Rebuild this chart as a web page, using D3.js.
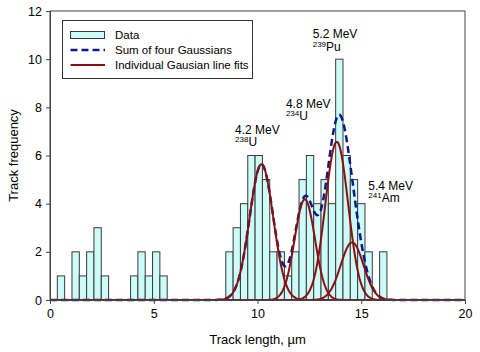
<!DOCTYPE html>
<html>
<head>
<meta charset="utf-8">
<script src="https://cdn.jsdelivr.net/npm/d3@7"></script>
<style>
  body { margin: 0; background: #fff; }
  text { font-family: "Liberation Sans", Arial, sans-serif; }
</style>
</head>
<body>
<div id="chart"></div>
<script>
// histogram bins: bin i covers [(i+1)*binWidth, (i+2)*binWidth]
const binWidth = 0.353;
const counts = [1, 0, 2, 1, 2, 3, 1, 0, 0, 0,
                1, 2, 1, 2, 1, 0, 0, 0, 0, 0,
                0, 0, 0, 2, 3, 4, 6, 6, 5, 2,
                2, 1, 2, 5, 6, 4, 5, 4, 10, 6,
                5, 4, 2, 0, 2];

// fitted gaussians (238U, 234U, 239Pu, 241Am)
const peakCentres = [10.19, 12.28, 13.82, 14.56];
const peakHeights = [5.64, 4.18, 6.57, 2.39];
const peakSigmas = [0.57, 0.49, 0.55, 0.55];

const energies = ["4.2 MeV", "4.8 MeV", "5.2 MeV", "5.4 MeV"];
const massNumbers = ["238", "234", "239", "241"];
const elements = ["U", "U", "Pu", "Am"];

const xTicks = [0, 5, 10, 15, 20];
const yTicks = [0, 2, 4, 6, 8, 10, 12];

const legendLabels = ["Data", "Sum of four Gaussians", "Individual Gausian line fits"];

// annotation anchors (data coords, left/baseline of the energy line)
const labelPos = [[8.92, 6.91], [11.37, 7.99], [12.66, 10.87], [15.34, 4.57]];

const width = 480, height = 352;
const margin = {top: 11, right: 15, bottom: 52, left: 50};

const svg = d3.select("#chart")
  .append("svg")
    .attr("width", width)
    .attr("height", height);

const x = d3.scaleLinear().domain([0, 20]).range([margin.left, width - margin.right]);
const y = d3.scaleLinear().domain([0, 12]).range([height - margin.bottom, margin.top]);

const axisColor = "#444";

// bars
const bins = counts.map((c, i) => ({lo: (i + 1) * binWidth, hi: (i + 2) * binWidth, c: c}))
  .filter(d => d.c > 0);
svg.selectAll("rect.bar")
  .data(bins)
  .enter()
  .append("rect")
    .attr("class", "bar")
    .attr("x", d => x(d.lo))
    .attr("width", d => x(d.hi) - x(d.lo))
    .attr("y", d => y(d.c))
    .attr("height", d => y(0) - y(d.c))
    .attr("fill", "#ccfbf8")
    .attr("stroke", "#3a3a3a")
    .attr("stroke-width", 1);

// curves
const xs = d3.range(0, 20.001, 0.04);
const gauss = (xv, i) => peakHeights[i] * Math.exp(-Math.pow(xv - peakCentres[i], 2) / (2 * peakSigmas[i] * peakSigmas[i]));
const line = d3.line().x(d => x(d[0])).y(d => y(d[1]));

svg.append("path")
  .datum(xs.map(v => [v, d3.sum(peakCentres, (_, i) => gauss(v, i))]))
  .attr("d", line)
  .attr("fill", "none")
  .attr("stroke", "#0a1a8c")
  .attr("stroke-width", 2.5)
  .attr("stroke-dasharray", "7,4");

peakCentres.forEach((_, i) => {
  svg.append("path")
    .datum(xs.map(v => [v, gauss(v, i)]))
    .attr("d", line)
    .attr("fill", "none")
    .attr("stroke", "#8b0f0f")
    .attr("stroke-width", 2);
});

// frame
svg.append("rect")
  .attr("x", x(0)).attr("y", y(12))
  .attr("width", x(20) - x(0)).attr("height", y(0) - y(12))
  .attr("fill", "none")
  .attr("stroke", axisColor)
  .attr("stroke-width", 1);

// axes
const gx = svg.append("g")
  .attr("transform", `translate(0,${y(0)})`)
  .call(d3.axisBottom(x).tickValues(xTicks).tickSize(4).tickPadding(5));
const gy = svg.append("g")
  .attr("transform", `translate(${x(0)},0)`)
  .call(d3.axisLeft(y).tickValues(yTicks).tickSize(4).tickPadding(4));
[gx, gy].forEach(g => {
  g.select(".domain").attr("stroke", axisColor);
  g.selectAll(".tick line").attr("stroke", axisColor);
  g.selectAll(".tick text")
    .attr("fill", "#000")
    .style("font-family", "'Liberation Sans', Arial, sans-serif")
    .style("font-size", "12.5px");
});

// axis titles
svg.append("text")
  .attr("x", (x(0) + x(20)) / 2)
  .attr("y", 344)
  .attr("text-anchor", "middle")
  .style("font-size", "13px")
  .text("Track length, \u00b5m");

svg.append("text")
  .attr("transform", `translate(18,${(y(0) + y(12)) / 2}) rotate(-90)`)
  .attr("text-anchor", "middle")
  .style("font-size", "13px")
  .text("Track frequency");

// peak annotations
energies.forEach((e, i) => {
  const px = x(labelPos[i][0]), py = y(labelPos[i][1]);
  svg.append("text")
    .attr("x", px).attr("y", py)
    .style("font-size", "12px")
    .text(e);
  const iso = svg.append("text")
    .attr("x", px).attr("y", py + 12.5)
    .style("font-size", "12px");
  iso.append("tspan")
    .attr("dy", -4)
    .style("font-size", "8px")
    .text(massNumbers[i]);
  iso.append("tspan")
    .attr("dy", 4)
    .text(elements[i]);
});

// legend
const lg = svg.append("g");
lg.append("rect")
  .attr("x", 62.5).attr("y", 20.5)
  .attr("width", 190).attr("height", 58)
  .attr("fill", "#fff")
  .attr("stroke", "#333");
lg.append("rect")
  .attr("x", 70.5).attr("y", 31.5)
  .attr("width", 34).attr("height", 7)
  .attr("fill", "#ccfbf8")
  .attr("stroke", "#3a3a3a");
lg.append("line")
  .attr("x1", 70.5).attr("x2", 105).attr("y1", 50).attr("y2", 50)
  .attr("stroke", "#0a1a8c").attr("stroke-width", 2.5).attr("stroke-dasharray", "7,4");
lg.append("line")
  .attr("x1", 70.5).attr("x2", 105).attr("y1", 65).attr("y2", 65)
  .attr("stroke", "#8b0f0f").attr("stroke-width", 2);
legendLabels.forEach((t, i) => {
  lg.append("text")
    .attr("x", 115)
    .attr("y", 39 + i * 15.2)
    .style("font-size", "11.5px")
    .text(t);
});
</script>
</body>
</html>
